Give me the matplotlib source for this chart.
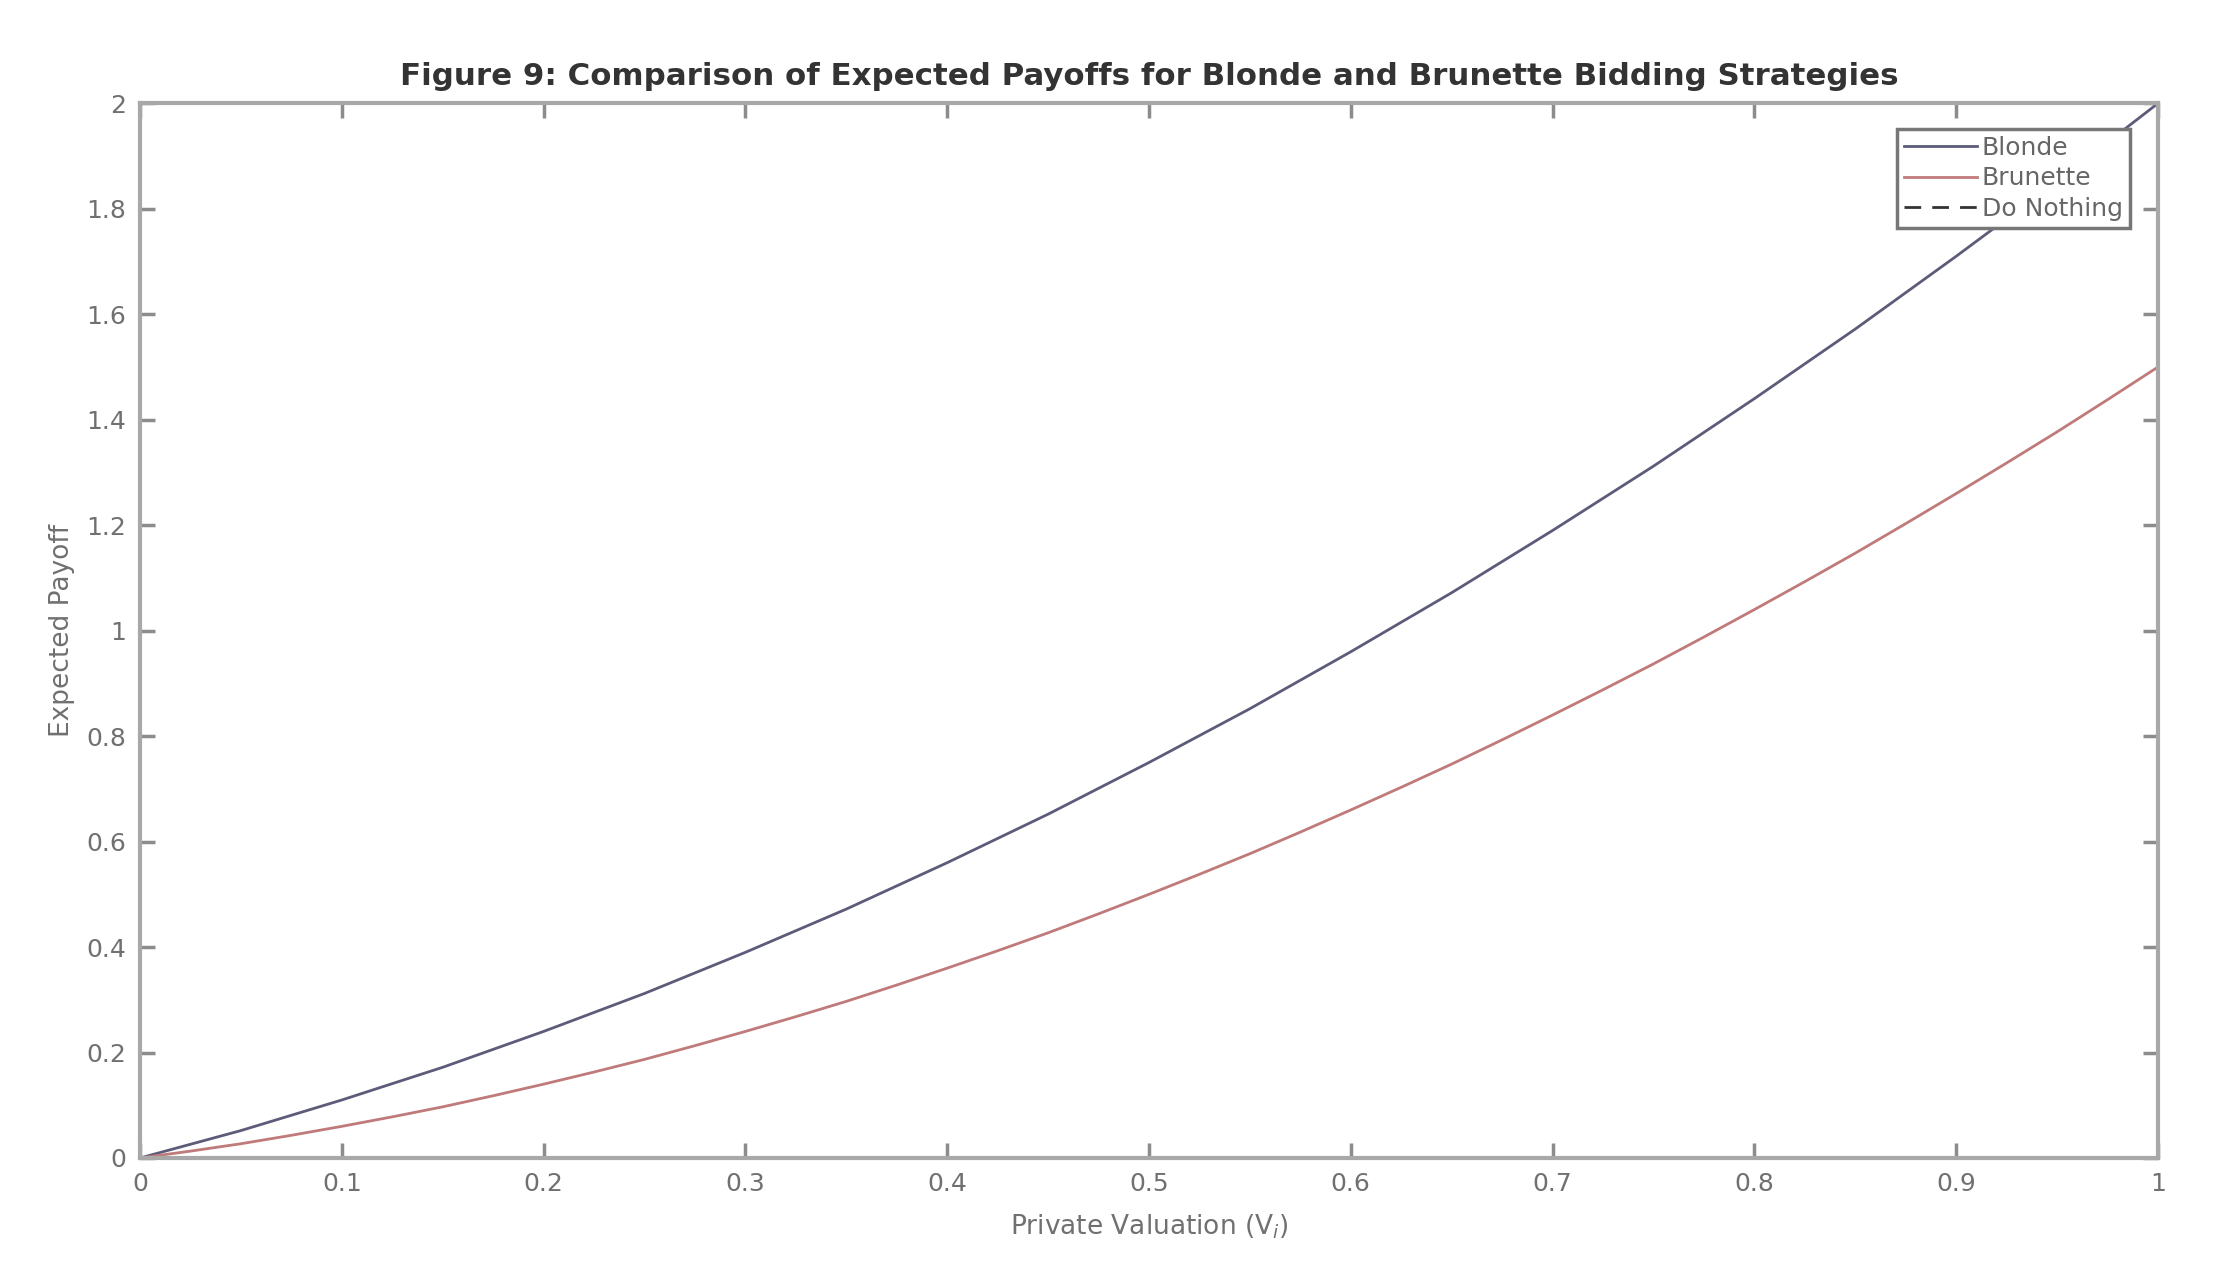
import matplotlib
matplotlib.use('Agg')
import matplotlib.pyplot as plt

# values
valuation = [0.0, 0.025, 0.05, 0.075, 0.1, 0.125, 0.15, 0.175, 0.2, 0.225, 0.25,
             0.275, 0.3, 0.325, 0.35, 0.375, 0.4, 0.425, 0.45, 0.475, 0.5,
             0.525, 0.55, 0.575, 0.6, 0.625, 0.65, 0.675, 0.7, 0.725, 0.75,
             0.775, 0.8, 0.825, 0.85, 0.875, 0.9, 0.925, 0.95, 0.975, 1.0]
blonde = [0.0, 0.026, 0.052, 0.081, 0.11, 0.141, 0.172, 0.206, 0.24, 0.276, 0.312,
          0.351, 0.39, 0.431, 0.472, 0.516, 0.56, 0.606, 0.652, 0.701, 0.75,
          0.801, 0.852, 0.906, 0.96, 1.016, 1.072, 1.131, 1.19, 1.251, 1.312,
          1.376, 1.44, 1.506, 1.572, 1.641, 1.71, 1.781, 1.852, 1.926, 2.0]
brunette = [0.0, 0.013, 0.027, 0.043, 0.06, 0.078, 0.097, 0.118, 0.14, 0.163, 0.187,
            0.213, 0.24, 0.268, 0.297, 0.328, 0.36, 0.393, 0.427, 0.463, 0.5,
            0.538, 0.577, 0.618, 0.66, 0.703, 0.747, 0.793, 0.84, 0.888, 0.937,
            0.988, 1.04, 1.093, 1.147, 1.203, 1.26, 1.318, 1.377, 1.438, 1.5]
do_nothing = [0.0] * len(valuation)

x_ticks = [0, 0.1, 0.2, 0.3, 0.4, 0.5, 0.6, 0.7, 0.8, 0.9, 1]
x_tick_labels = ['0', '0.1', '0.2', '0.3', '0.4', '0.5', '0.6', '0.7', '0.8', '0.9', '1']
y_ticks = [0, 0.2, 0.4, 0.6, 0.8, 1, 1.2, 1.4, 1.6, 1.8, 2]
y_tick_labels = ['0', '0.2', '0.4', '0.6', '0.8', '1', '1.2', '1.4', '1.6', '1.8', '2']

GRAY = '#a8a8a8'
TXT = '#707070'

fig = plt.figure(figsize=(22.27, 12.76), dpi=100)
ax = fig.add_axes([0.0629, 0.0925, 0.969 - 0.0629, 0.919 - 0.0925])

ax.plot(valuation, blonde, color='#5c5c7a', lw=2, label='Blonde')
ax.plot(valuation, brunette, color='#c07a7a', lw=2, label='Brunette')
ax.plot(valuation, do_nothing, color='#333333', lw=2, ls='--', dashes=(6, 4), label='Do Nothing')

ax.set_xlim(0, 1)
ax.set_ylim(0, 2)
ax.set_xticks(x_ticks)
ax.set_xticklabels(x_tick_labels)
ax.set_yticks(y_ticks)
ax.set_yticklabels(y_tick_labels)

for sp in ax.spines.values():
  sp.set_color(GRAY)
  sp.set_linewidth(3)
ax.tick_params(direction='in', length=11, width=2.5, color='#8c8c8c',
               labelcolor=TXT, labelsize=18, top=True, right=True, pad=10)

ax.set_title('Figure 9: Comparison of Expected Payoffs for Blonde and Brunette Bidding Strategies',
             fontsize=22.2, fontweight='bold', color='#333333', pad=13)
ax.set_xlabel('Private Valuation (V$_i$)', fontsize=19, color=TXT, labelpad=12)
ax.set_ylabel('Expected Payoff', fontsize=19, color=TXT, labelpad=8)

leg = ax.legend(loc='upper right', fontsize=18, fancybox=False, framealpha=1,
                borderpad=0.3, labelspacing=0.25, handlelength=2.9, handletextpad=0.2,
                bbox_to_anchor=(0.9925, 0.988))
leg.get_frame().set_edgecolor('#777777')
leg.get_frame().set_linewidth(2.5)
for t in leg.get_texts():
  t.set_color('#666666')

fig.savefig('out.png', dpi=100, facecolor='white')
